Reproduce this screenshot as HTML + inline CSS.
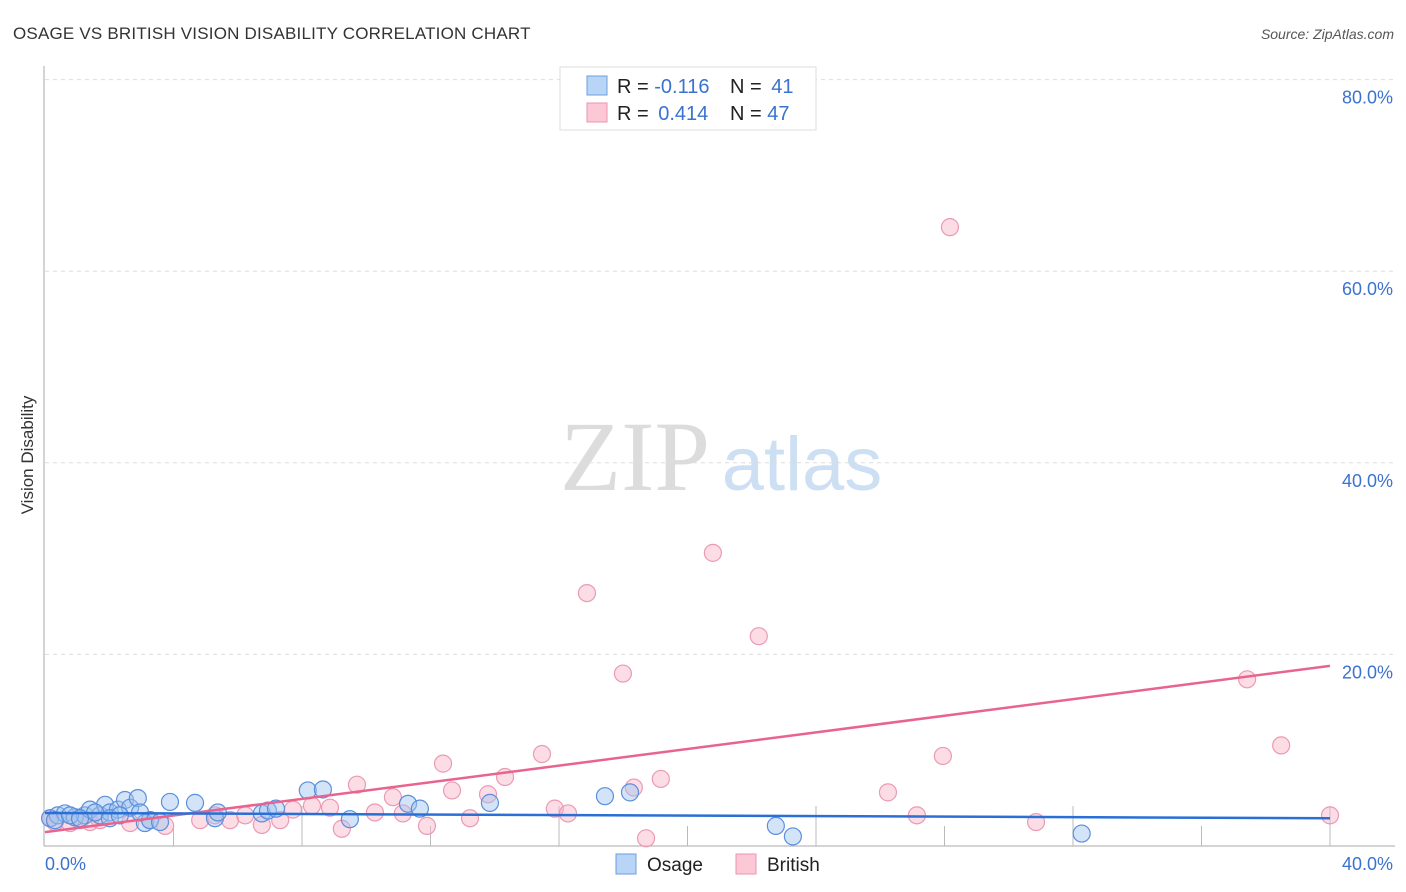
<!DOCTYPE html>
<html><head><meta charset="utf-8"><style>
body{margin:0;background:#fff;font-family:"Liberation Sans",sans-serif;}
svg{display:block}
</style></head><body>
<svg id="chart" width="1406" height="892" viewBox="0 0 1406 892" xmlns="http://www.w3.org/2000/svg">
<text x="13" y="39" font-size="17" fill="#333" letter-spacing="0.2">OSAGE VS BRITISH VISION DISABILITY CORRELATION CHART</text>
<text x="1394" y="39" font-size="14" fill="#555" font-style="italic" text-anchor="end">Source: ZipAtlas.com</text>
<g>
<text x="635" y="490" font-size="100" fill="#dcdcdc" font-family="Liberation Serif,serif" text-anchor="middle">ZIP</text>
<text x="802" y="490" font-size="76" fill="#cddff3" text-anchor="middle">atlas</text>
</g>
<g id="grid"></g>
<g id="axes"></g>
<g id="marks"></g>
<text transform="translate(33,455) rotate(-90)" font-size="17" fill="#333" text-anchor="middle">Vision Disability</text>
<g>
<rect x="560" y="67" width="256" height="63" fill="#fff" stroke="#ddd"/>
<rect x="587" y="76" width="20" height="19" fill="#b8d4f6" stroke="#6a9fe0"/>
<rect x="587" y="103" width="20" height="19" fill="#fcc8d6" stroke="#eb95b0"/>
<text x="617" y="93" font-size="20" fill="#222">R = <tspan fill="#3b72d0">-0.116</tspan></text>
<text x="730" y="93" font-size="20" fill="#222">N = <tspan fill="#3b72d0" dx="4">41</tspan></text>
<text x="617" y="120" font-size="20" fill="#222">R = <tspan fill="#3b72d0" dx="4">0.414</tspan></text>
<text x="730" y="120" font-size="20" fill="#222">N = <tspan fill="#3b72d0">47</tspan></text>
</g>
<g>
<rect x="616" y="854" width="20" height="20" fill="#b8d4f6" stroke="#6a9fe0"/>
<text x="647" y="871" font-size="19" fill="#222">Osage</text>
<rect x="736" y="854" width="20" height="20" fill="#fcc8d6" stroke="#eb95b0"/>
<text x="767" y="871" font-size="19" fill="#222">British</text>
</g>
</svg>
<script>
const xTicks=[0,4,8,12,16,20,24,28,32,36,40];
const yTicks=[20,40,60,80];
const yTickLabels=["20.0%","40.0%","60.0%","80.0%"];
const osageX=[0.16,0.4,0.62,0.93,1.24,1.4,1.71,1.87,2.02,2.27,2.49,2.65,2.89,3.11,3.27,3.89,4.67,5.29,5.38,6.75,6.94,7.19,8.18,8.65,9.49,11.3,11.67,13.85,17.43,18.21,22.75,23.28,32.27,0.31,0.78,1.56,2.02,3.58,2.33,2.96,1.09];
const osageY=[2.9,3.2,3.4,3.0,3.2,3.8,3.2,4.3,3.5,3.8,4.8,4.0,5.0,2.4,2.7,4.6,4.5,2.9,3.5,3.4,3.7,3.9,5.8,5.9,2.8,4.4,3.9,4.5,5.2,5.6,2.1,1.0,1.3,2.7,3.2,3.5,2.9,2.5,3.2,3.5,2.9];
const britX=[0.16,0.31,0.78,1.09,1.4,1.71,2.65,3.27,3.74,4.83,5.29,5.76,6.23,6.75,7.32,7.72,8.31,8.87,9.24,9.71,10.27,10.83,11.14,11.89,12.39,12.67,13.23,13.79,14.32,15.47,15.87,16.28,16.87,17.99,18.33,18.71,19.17,20.79,22.22,26.24,27.14,27.95,28.17,30.85,37.42,38.48,40.0];
const britY=[2.9,2.5,2.4,2.7,2.5,2.7,2.4,2.7,2.1,2.7,3.2,2.7,3.2,2.2,2.7,3.8,4.2,4.0,1.8,6.4,3.5,5.1,3.4,2.1,8.6,5.8,2.9,5.4,7.2,9.6,3.9,3.4,26.4,18.0,6.1,0.8,7.0,30.6,21.9,5.6,3.2,9.4,64.6,2.5,17.4,10.5,3.2];
const osageTrend=[3.45,2.9];
const britTrend=[1.45,18.8];
const X0=45,X1=1330,YB=846,YPX=9.58;
const sx=v=>X0+(X1-X0)*v/40;
const sy=v=>YB-v*YPX;
const NS="http://www.w3.org/2000/svg";
function mk(tag,attrs,parent){const e=document.createElementNS(NS,tag);for(const k in attrs)e.setAttribute(k,attrs[k]);document.getElementById(parent).appendChild(e);return e;}
yTicks.forEach((t,i)=>{
 const g=mk('line',{x1:45,x2:1395,y1:sy(t),y2:sy(t),stroke:'#ddd','stroke-dasharray':'4,4'},'grid');
 
 
 const l=mk('text',{x:1393,y:sy(t)+24,'font-size':18,fill:'#3b72d0','text-anchor':'end'},'grid');
 
 
 l.textContent=yTickLabels[i];
});
const ax=mk('line',{x1:44,x2:44,y1:66,y2:846,stroke:'#aaa'},'axes');


const bx=mk('line',{x1:44,x2:1395,y1:846,y2:846,stroke:'#aaa'},'axes');


xTicks.forEach(t=>{
 if(t===0)return;
 const tk=mk('line',{x1:sx(t),x2:sx(t),y1:(t%8===4)?826:806,y2:846,stroke:'#bbb'},'axes');
 
 
});
const xl0=mk('text',{x:45,y:870,'font-size':18,fill:'#3b72d0'},'axes');


xl0.textContent='0.0%';
const xl1=mk('text',{x:1393,y:870,'font-size':18,fill:'#3b72d0','text-anchor':'end'},'axes');


xl1.textContent='40.0%';
britX.forEach((v,i)=>{
 const c=mk('circle',{cx:sx(v),cy:sy(britY[i]),r:8.5,fill:'rgba(248,180,200,0.45)',stroke:'#eb9ab3','stroke-width':1.2},'marks');
 
 
});
osageX.forEach((v,i)=>{
 const c=mk('circle',{cx:sx(v),cy:sy(osageY[i]),r:8.5,fill:'rgba(160,195,240,0.45)',stroke:'#5b8fdc','stroke-width':1.2},'marks');
 
 
});
const pl=mk('line',{x1:sx(0),y1:sy(britTrend[0]),x2:sx(40),y2:sy(britTrend[1]),stroke:'#e8648e','stroke-width':2.5},'marks');


const bl=mk('line',{x1:sx(0),y1:sy(osageTrend[0]),x2:sx(40),y2:sy(osageTrend[1]),stroke:'#2a6fd6','stroke-width':2.5},'marks');


</script>
</body></html>
